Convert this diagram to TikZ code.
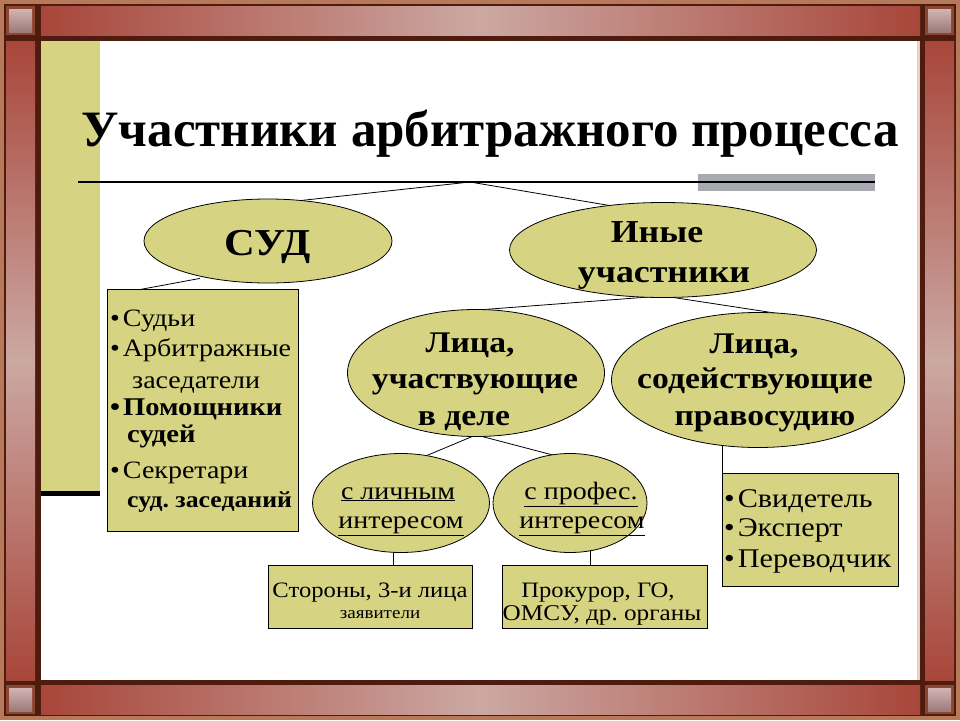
\documentclass[tikz,border=0pt]{standalone}
\usepackage{fontspec}
\setmainfont{Liberation Serif}
\newfontfamily\widefont[FakeStretch=1.12]{Liberation Serif}
\usetikzlibrary{shapes.geometric,calc}
\pgfdeclarelayer{bg}
\pgfdeclarelayer{cn}
\pgfsetlayers{bg,cn,main}
\definecolor{olivefill}{HTML}{D6D383}
\definecolor{framedark}{HTML}{4E1C0E}
\definecolor{frametan}{HTML}{B8795A}
\definecolor{barD}{HTML}{A8463A}
\definecolor{barL}{HTML}{CCA8A3}
\definecolor{cornerT}{HTML}{D2B4B4}
\definecolor{cornerB}{HTML}{9E7A7A}
\definecolor{bevel}{HTML}{8C4630}
\definecolor{pinkline}{HTML}{E9CFCC}
\definecolor{graybar}{HTML}{A9A9B1}
\tikzset{
  ell/.style={ellipse, draw=black, line width=0.8pt, fill=olivefill, inner sep=0pt},
  box/.style={draw=black, line width=1.3pt, fill=olivefill, inner sep=0pt, anchor=north west},
  con/.style={draw=black, line width=0.8pt},
  bigtxt/.style={font=\widefont\bfseries\fontsize{30}{34}\selectfont, inner sep=0pt, anchor=base},
  smalltxt/.style={font=\widefont\fontsize{22}{26}\selectfont, inner sep=0pt, anchor=base},
  ovaltxt/.style={font=\widefont\fontsize{25}{28}\selectfont, inner sep=0pt, anchor=base},
  listtxt/.style={font=\widefont\fontsize{25}{28}\selectfont, inner sep=0pt, anchor=base west},
  listbold/.style={listtxt, font=\widefont\bfseries\fontsize{25.5}{28}\selectfont},
}
\newcommand{\bul}{\textbullet\kern3pt}
\begin{document}
\frenchspacing
\begin{tikzpicture}[x=1pt,y=-1pt]
\useasboundingbox (0,0) rectangle (960,720);
\begin{pgfonlayer}{bg}
  \fill[frametan] (0,0) rectangle (960,720);
  \fill[framedark] (4,4) rectangle (956,716);
  \shade[left color=barD,right color=barD,middle color=barL] (41,6) rectangle (920,35);
  \shade[left color=barD,right color=barD,middle color=barL] (41,685) rectangle (920,714);
  \shade[top color=barD,bottom color=barD,middle color=barL] (6,41) rectangle (35,680);
  \shade[top color=barD,bottom color=barD,middle color=barL] (925,41) rectangle (954,680);
  \foreach \cx/\cy in {6/6, 925/6, 6/685, 925/685}{
    \fill[bevel] (\cx,\cy) rectangle ++(29,29);
    \shade[top color=cornerT, middle color=white, bottom color=cornerB] (\cx+3,\cy+3) rectangle ++(23,23);
  }
  \fill[white] (41,41) rectangle (920,680);
  \fill[pinkline] (917,41) rectangle (920,680);
  \fill[olivefill] (41,41) rectangle (100,491);
  \fill[black] (41,491) rectangle (100,496);
  \fill[graybar] (698,174) rectangle (875,191);
\end{pgfonlayer}

% title
\node[font=\bfseries\fontsize{51}{60}\selectfont, inner sep=0pt, anchor=base] (title) at (490,146) {Участники арбитражного процесса};
\draw[line width=2.5pt] (78,182) -- (875,182);
\coordinate (apex) at (470,182);

% ellipses
\node[ell, minimum width=248, minimum height=84] (sud) at (268,241) {};
\node[ell, minimum width=307, minimum height=95] (ine) at (663,250) {};
\node[ell, minimum width=257, minimum height=127] (lu) at (476,373) {};
\node[ell, minimum width=293, minimum height=135] (ls) at (758,380) {};
\node[ell, minimum width=177, minimum height=99] (e1) at (401,503) {};
\node[ell, minimum width=154, minimum height=99] (e2) at (570,503) {};

% boxes
\node[box, minimum width=191, minimum height=242] (b1) at (107,289) {};
\node[box, minimum width=176, minimum height=113] (b2) at (722,473) {};
\node[box, minimum width=204, minimum height=63] (b3) at (268,565) {};
\node[box, minimum width=205, minimum height=63] (b4) at (502,565) {};

% connectors
\begin{pgfonlayer}{cn}
  \draw[con] (apex) -- ($(sud.north)+(32,2)$);
  \draw[con] (apex) -- ($(ine.north)+(-50,4)$);
  \draw[con] ($(sud.south)+(-68,-5)$) -- ($(b1.north west)+(25,2)$);
  \draw[con] ($(ine.south)+(0,-2)$) -- ($(lu.north)+(-26,3)$);
  \draw[con] ($(ine.south)+(0,-2)$) -- ($(ls.north)+(37,4)$);
  \draw[con] ($(lu.south)+(0,-2)$) -- ($(e1.north)+(22,4)$);
  \draw[con] ($(lu.south)+(0,-2)$) -- ($(e2.north)+(-13,3)$);
  \draw[con] (b2.north west) -- ++(0,-30);
  \draw[con] ($(b3.north west)+(125,2)$) -- ++(0,-17);
  \draw[con] ($(b4.north west)+(88,2)$) -- ++(0,-17);
\end{pgfonlayer}

% ellipse texts
\node[bigtxt, font=\widefont\bfseries\fontsize{38}{40}\selectfont] (sudT) at (268,255) {СУД};
\node[bigtxt, font=\widefont\bfseries\fontsize{32}{36}\selectfont] (ineT1) at (657,242) {Иные};
\node[bigtxt, font=\widefont\bfseries\fontsize{32}{36}\selectfont] (ineT2) at (664,282) {участники};
\node[bigtxt] (luT1) at (470,352) {Лица,};
\node[bigtxt] (luT2) at (475,388) {участвующие};
\node[bigtxt] (luT3) at (464,425) {в деле};
\node[bigtxt] (lsT1) at (754,353) {Лица,};
\node[bigtxt] (lsT2) at (755,388) {содействующие};
\node[bigtxt] (lsT3) at (765,425) {правосудию};
\node[ovaltxt] (e1T1) at (398,499) {\underline{с личным}};
\node[ovaltxt] (e1T2) at (401,528) {\underline{интересом}};
\node[ovaltxt] (e2T1) at (581,499) {\underline{с профес.}};
\node[ovaltxt] (e2T2) at (582,528) {\underline{интересом}};

% box texts
\node[smalltxt] (b3T1) at (370,597) {Стороны, 3-и лица};
\node[smalltxt, font=\widefont\fontsize{17}{20}\selectfont] (b3T2) at (380,618) {заявители};
\node[smalltxt] (b4T1) at (598,597) {Прокурор, ГО,};
\node[smalltxt, font=\widefont\fontsize{22.5}{26}\selectfont] (b4T2) at (602,620) {ОМСУ, др. органы};

\node[listtxt, font=\widefont\fontsize{27}{30}\selectfont] (b2T1) at (724,507) {\bul Свидетель};
\node[listtxt, font=\widefont\fontsize{27}{30}\selectfont] (b2T2) at (724,536) {\bul Эксперт};
\node[listtxt, font=\widefont\fontsize{27}{30}\selectfont] (b2T3) at (724,567) {\bul Переводчик};

\node[listtxt] (b1T1) at (110,326) {\bul Судьи};
\node[listtxt] (b1T2) at (110,356) {\bul Арбитражные};
\node[listtxt] (b1T3) at (132,388) {заседатели};
\node[listbold] (b1T4) at (110,415) {\bul Помощники};
\node[listbold] (b1T5) at (127,442) {судей};
\node[listtxt] (b1T6) at (110,478) {\bul Секретари};
\node[listbold, font=\widefont\bfseries\fontsize{23}{28}\selectfont] (b1T7) at (127,507) {суд. заседаний};
\end{tikzpicture}
\end{document}
